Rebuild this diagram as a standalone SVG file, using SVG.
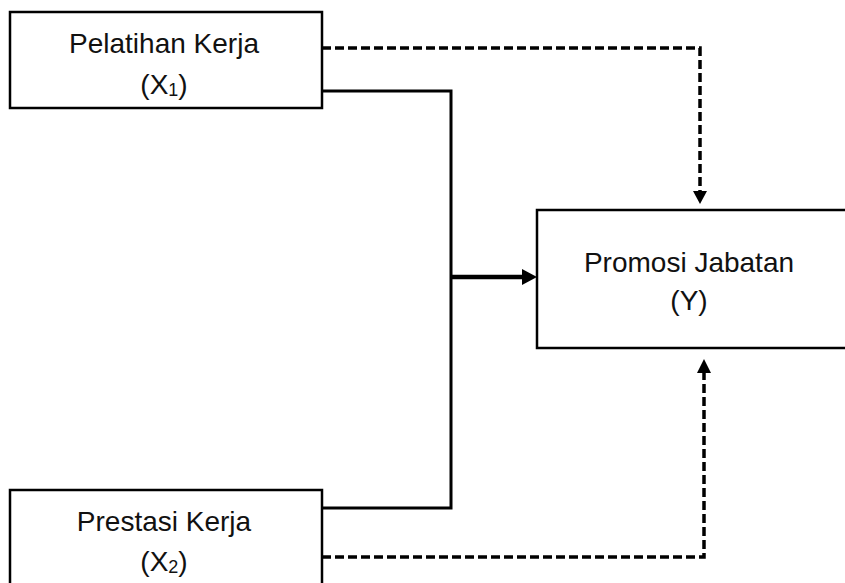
<svg xmlns="http://www.w3.org/2000/svg" width="845" height="583" viewBox="0 0 845 583">
<style>
.box{fill:#fff;stroke:#000;stroke-width:2.5}
.t{font-family:"Liberation Sans",Arial,sans-serif;font-size:28px;fill:#111;text-anchor:middle}
.sub{font-size:18px}
.solid{fill:none;stroke:#000;stroke-width:3}
.dash{fill:none;stroke:#000;stroke-width:3.5;stroke-dasharray:9 4}
</style>
<g id="connectors">
<path class="solid" d="M322,91 H451 V508 H322"/>
<line x1="451" y1="277" x2="525" y2="277" stroke="#000" stroke-width="4.5"/>
<path d="M522,269 L537,277 L522,285 z" fill="#000"/>
<path class="dash" d="M322,48 H700 V192"/>
<path d="M693,191 L700,204 L707,191 z" fill="#000"/>
<path class="dash" d="M322,557 H704 V372"/>
<path d="M697,373 L704,359 L711,373 z" fill="#000"/>
</g>
<g id="x1">
<rect class="box" x="10" y="12" width="312" height="96"/>
<text class="t" x="164" y="53">Pelatihan Kerja</text>
<text class="t" x="164" y="94">(X<tspan class="sub" dy="2">1</tspan><tspan dy="-2">)</tspan></text>
</g>
<g id="x2">
<rect class="box" x="10" y="490" width="312" height="110"/>
<text class="t" x="164" y="531">Prestasi Kerja</text>
<text class="t" x="164" y="571">(X<tspan class="sub" dy="2">2</tspan><tspan dy="-2">)</tspan></text>
</g>
<g id="y">
<rect class="box" x="537" y="210" width="320" height="138"/>
<text class="t" x="689" y="272">Promosi Jabatan</text>
<text class="t" x="689" y="310">(Y)</text>
</g>
</svg>
